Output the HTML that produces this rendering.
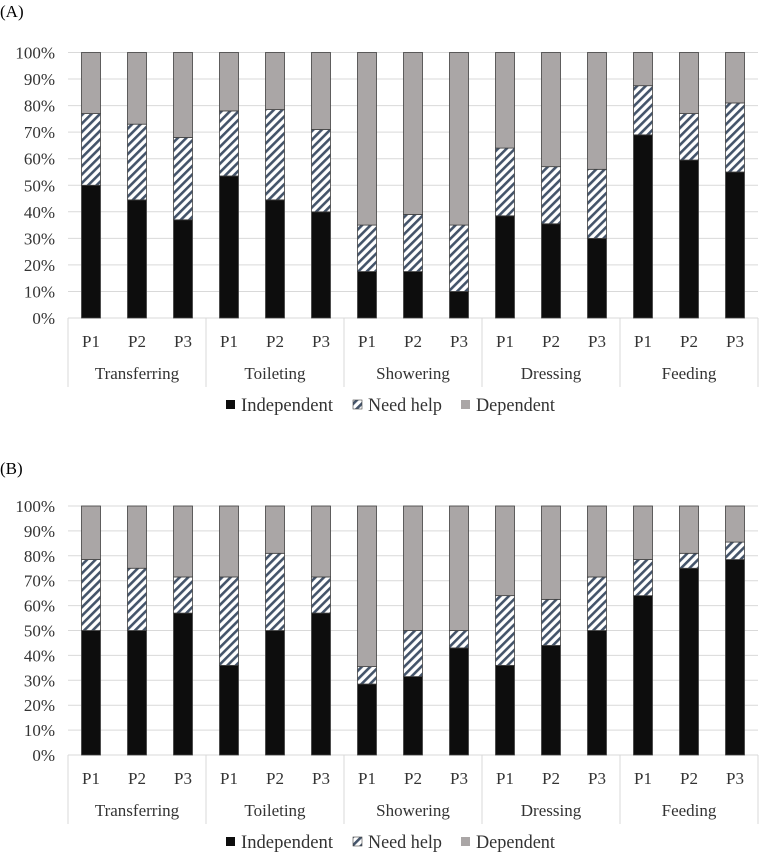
<!DOCTYPE html>
<html><head><meta charset="utf-8">
<style>
html,body{margin:0;padding:0;background:#fff;}
svg{display:block;font-family:"Liberation Serif",serif;}
</style></head>
<body>
<svg id="chart" width="759" height="856" viewBox="0 0 759 856">
<defs>
<pattern id="hatch" patternUnits="userSpaceOnUse" width="6" height="6" patternTransform="rotate(45)">
<rect width="6" height="6" fill="#fff"/>
<rect x="0" y="0" width="2.6" height="6" fill="#44546a"/>
</pattern>
</defs>
</svg>
<script>
const categories = ["Transferring","Toileting","Showering","Dressing","Feeding"];
const periods = ["P1","P2","P3"];
const seriesNames = ["Independent","Need help","Dependent"];
const tickLabels = ["0%","10%","20%","30%","40%","50%","60%","70%","80%","90%","100%"];
// Panel A: independent %, independent+need help cumulative %
const independentA = [50,44.5,37, 53.5,44.5,40, 17.5,17.5,10, 38.5,35.5,30, 69,59.5,55];
const needHelpTopA = [77,73,68, 78,78.5,71, 35,39,35, 64,57,56, 87.5,77,81];
// Panel B
const independentB = [50,50,57, 36,50,57, 28.5,31.5,43, 36,44,50, 64,75,78.5];
const needHelpTopB = [78.5,75,71.5, 71.5,81,71.5, 35.5,50,50, 64,62.5,71.5, 78.5,81,85.5];

const svg = document.getElementById('chart');
const NS = "http://www.w3.org/2000/svg";
function mk(tag, attrs, parent){
  const e = document.createElementNS(NS, tag);
  for (const k in attrs) e.setAttribute(k, attrs[k]);
  (parent||svg).appendChild(e);
  return e;
}
const left = 68, slot = 46, barW = 19;
const fills = ["#0d0d0d","url(#hatch)","#aaa6a6"];

function panel(label, labelY, top, bottom, indep, nhTop, key){
  const g = mk('g', {});
  
  
  const y = v => bottom - (bottom - top) * v / 100;
  const t = mk('text', {x:0, y:labelY, 'font-size':17, fill:'#000'}, g);
  t.textContent = label;
  
  
  tickLabels.forEach((lab, i) => {
    const v = i * 10;
    const gl = mk('line', {x1:left, x2:left + slot * 15, y1:y(v), y2:y(v), stroke:'#d9d9d9', 'stroke-width':1}, g);
    
    
    const tl = mk('text', {x:55, y:y(v) + 6, 'font-size':17, 'text-anchor':'end', fill:'#333'}, g);
    tl.textContent = lab;
    
    
  });
  for (let i = 0; i < 15; i++) {
    const cx = left + slot * i + slot / 2;
    const bounds = [0, indep[i], nhTop[i], 100];
    for (let s = 0; s < 3; s++) {
      const r = mk('rect', {x:cx - barW/2, y:y(bounds[s+1]), width:barW, height:y(bounds[s]) - y(bounds[s+1]), fill:fills[s], stroke:'#404040', 'stroke-width':0.8}, g);
      
      
    }
    const pl = mk('text', {x:cx, y:bottom + 29, 'font-size':17, 'text-anchor':'middle', fill:'#333'}, g);
    pl.textContent = periods[i % 3];
    
    
  }
  for (let c = 0; c <= 5; c++) {
    const x = left + slot * 3 * c;
    const dl = mk('line', {x1:x, x2:x, y1:bottom, y2:bottom + 69, stroke:'#d9d9d9', 'stroke-width':1}, g);
    
    
  }
  categories.forEach((cat, c) => {
    const ct = mk('text', {x:left + slot * 3 * c + slot * 1.5, y:bottom + 61, 'font-size':17, 'text-anchor':'middle', fill:'#333'}, g);
    ct.textContent = cat;
    
    
  });
  // legend
  const ly = bottom + 93;
  const legX = [226, 353, 461];
  const legW = [92, 74, 79];
  seriesNames.forEach((n, s) => {
    const lr = mk('rect', {x:legX[s], y:ly - 11, width:9, height:9, fill:fills[s], stroke: s===1 ? '#404040' : 'none', 'stroke-width':0.6}, g);
    
    
    const lt = mk('text', {x:legX[s] + 15, y:ly, 'font-size':18.5, fill:'#333', textLength:legW[s], lengthAdjust:'spacingAndGlyphs'}, g);
    lt.textContent = n;
    
    
  });
}
panel("(A)", 17, 52.5, 318, independentA, needHelpTopA, 'a');
panel("(B)", 474, 506, 755, independentB, needHelpTopB, 'b');
</script>
</body></html>
